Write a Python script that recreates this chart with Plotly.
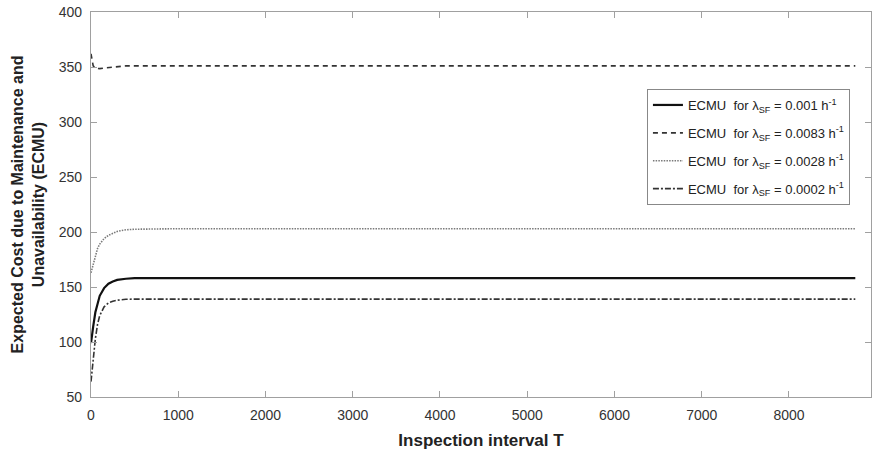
import plotly.graph_objects as go

# Inspection interval T (hours)
T = [0, 10, 25, 50, 75, 100, 150, 200, 250, 300, 400, 500, 1000, 8760]

# ECMU series
ecmu_0001 = [99, 106, 114, 127, 136, 142, 149, 153, 155, 156.5, 157.5, 158, 158, 158]
ecmu_0083 = [362, 356, 351, 349, 348.5, 348.5, 349, 349.5, 350, 350.5, 351, 351, 351, 351]
ecmu_0028 = [163, 166, 171, 179, 185, 189, 194, 197, 199, 200.5, 202, 202.5, 203, 203]
ecmu_0002 = [64, 72, 84, 103, 116, 124, 132, 135.5, 137, 138, 138.8, 139, 139, 139]

names = [
    "ECMU\u00a0\u00a0for \u03bb<sub>SF</sub> = 0.001 h<sup>-1</sup>",
    "ECMU\u00a0\u00a0for \u03bb<sub>SF</sub> = 0.0083 h<sup>-1</sup>",
    "ECMU\u00a0\u00a0for \u03bb<sub>SF</sub> = 0.0028 h<sup>-1</sup>",
    "ECMU\u00a0\u00a0for \u03bb<sub>SF</sub> = 0.0002 h<sup>-1</sup>",
]
series = [ecmu_0001, ecmu_0083, ecmu_0028, ecmu_0002]
styles = [
    dict(color="#111111", width=2.2, dash="solid"),
    dict(color="#333333", width=1.6, dash="5px,4px"),
    dict(color="#7a7a7a", width=1.6, dash="1.5px,1.2px"),
    dict(color="#333333", width=1.6, dash="6px,2px,2px,2px"),
]

x_ticks = [0, 1000, 2000, 3000, 4000, 5000, 6000, 7000, 8000]
y_ticks = [50, 100, 150, 200, 250, 300, 350, 400]

fig = go.Figure()
for i, (nm, ys, st) in enumerate(zip(names, series, styles)):
    fig.add_trace(go.Scatter(x=T, y=ys, mode="lines", name=nm, line=st,
                             legendgroup=f"g{i}"))

axis_common = dict(
    showline=True, linecolor="#a0a0a0", linewidth=1.2, mirror="ticks",
    ticks="inside", ticklen=6, tickcolor="#a0a0a0", tickwidth=1.2,
    showgrid=False, zeroline=False,
    tickfont=dict(family="Liberation Sans, Arial, sans-serif", size=14, color="#333333"),
)

fig.update_layout(
    width=872, height=454,
    margin=dict(l=91, r=1, t=12, b=57),
    paper_bgcolor="white", plot_bgcolor="white",
    showlegend=True,
    legend=dict(
        x=0.973, y=0.8, xanchor="right", yanchor="top",
        bgcolor="white", bordercolor="#888888", borderwidth=1,
        font=dict(family="Liberation Sans, Arial, sans-serif", size=13, color="#222222"),
        traceorder="grouped", tracegroupgap=8,
    ),
    xaxis=dict(range=[0, 8940], tickvals=x_ticks, ticktext=[str(v) for v in x_ticks],
               ticklabelstandoff=5,
               title=dict(text="Inspection interval T", standoff=12,
                          font=dict(family="Liberation Sans, Arial, sans-serif", size=17,
                                    color="#222222", weight="bold")),
               **axis_common),
    yaxis=dict(range=[50, 400], tickvals=y_ticks, ticktext=[str(v) for v in y_ticks],
               ticklabelstandoff=5,
               title=dict(text="Expected Cost due to Maintenance and<br>Unavailability (ECMU)",
                          standoff=10,
                          font=dict(family="Liberation Sans, Arial, sans-serif", size=16,
                                    color="#222222", weight="bold")),
               **axis_common),
)

fig.write_html("out.html")
